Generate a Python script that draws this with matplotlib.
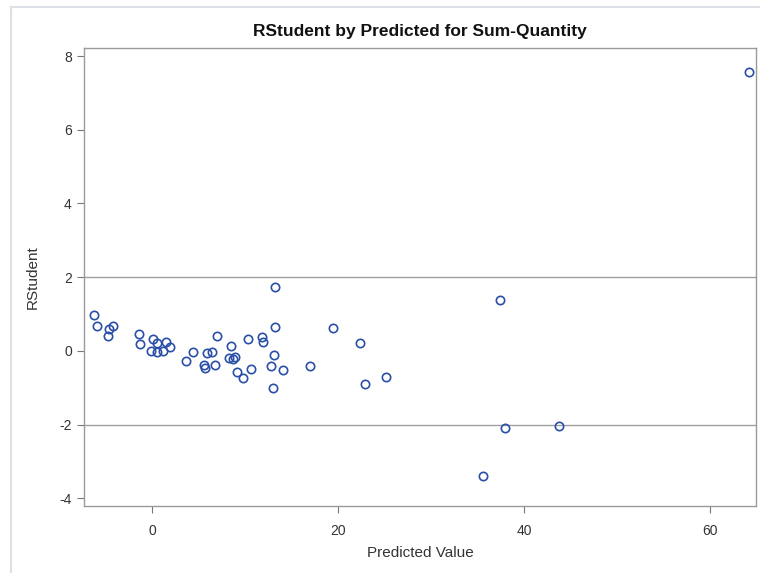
import matplotlib
matplotlib.use("Agg")
from matplotlib import pyplot as plt
from matplotlib.lines import Line2D

plt.rcParams['font.family'] = ['Liberation Sans', 'DejaVu Sans']
plt.rcParams['axes.unicode_minus'] = False

# predicted value and studentized residual for each observation
predicted = [-6.25, -5.96, -4.17, -4.60, -4.71, -1.37, -1.26, 0.14, 0.57, 1.48,
             1.94, -0.14, 0.54, 1.15, 4.42, 3.63, 6.98, 5.90, 6.47, 5.53,
             5.68, 6.72, 8.52, 8.23, 8.70, 8.92, 9.13, 9.78, 10.32, 10.67,
             11.83, 11.97, 13.26, 13.26, 13.12, 12.83, 14.09, 12.97, 19.51, 22.35,
             16.93, 25.20, 22.86, 37.45, 37.98, 43.77, 35.55, 64.26]
rstudent = [0.977, 0.687, 0.687, 0.589, 0.415, 0.461, 0.190, 0.326, 0.225, 0.236,
            0.100, 0.008, -0.027, 0.008, -0.027, -0.280, 0.415, -0.046, -0.027, -0.380,
            -0.461, -0.388, 0.136, -0.190, -0.225, -0.155, -0.578, -0.733, 0.326, -0.480,
            0.372, 0.252, 1.729, 0.651, -0.100, -0.415, -0.507, -0.996, 0.616, 0.225,
            -0.415, -0.706, -0.904, 1.384, -2.098, -2.027, -3.392, 7.571]
ref_lines = [2, -2]
x_ticks = [0, 20, 40, 60]
y_ticks = [-4, -2, 0, 2, 4, 6, 8]

fig = plt.figure(figsize=(7.6, 5.73), dpi=100)
ax = fig.add_axes([0.111, 0.117, 0.884, 0.800])

for r in ref_lines:
    ax.axhline(r, color='#a0a0a0', lw=1.0, zorder=1)

ax.plot(predicted, rstudent, 'o', mfc='none', mec='#2a4fa8', ms=6, mew=1.2, zorder=3)

ax.set_xlim(-7.3, 65.0)
ax.set_ylim(-4.21, 8.23)
ax.set_xticks(x_ticks)
ax.set_yticks(y_ticks)
ax.tick_params(direction='out', length=5, width=0.8, color='#777777',
               labelcolor='#333333', labelsize=10)
ax.tick_params(axis='x', pad=8)
ax.tick_params(axis='y', pad=4)
for s in ax.spines.values():
    s.set_color('#9a9a9a')
    s.set_linewidth(1.0)

ax.set_xlabel('Predicted Value', fontsize=11, color='#333333', labelpad=6)
ax.set_ylabel('RStudent', fontsize=11, color='#333333', labelpad=14)
ax.set_title('RStudent by Predicted for Sum-Quantity', fontsize=12.5,
             fontweight='bold', color='#111111', pad=8)

# light outer border of the graph area
fig.add_artist(Line2D([11 / 760, 11 / 760], [0, 1 - 7 / 573], color='#dde0e6', lw=1.5))
fig.add_artist(Line2D([11 / 760, 1], [1 - 7 / 573, 1 - 7 / 573], color='#dde0e6', lw=1.5))

fig.savefig('out.png', dpi=100)
